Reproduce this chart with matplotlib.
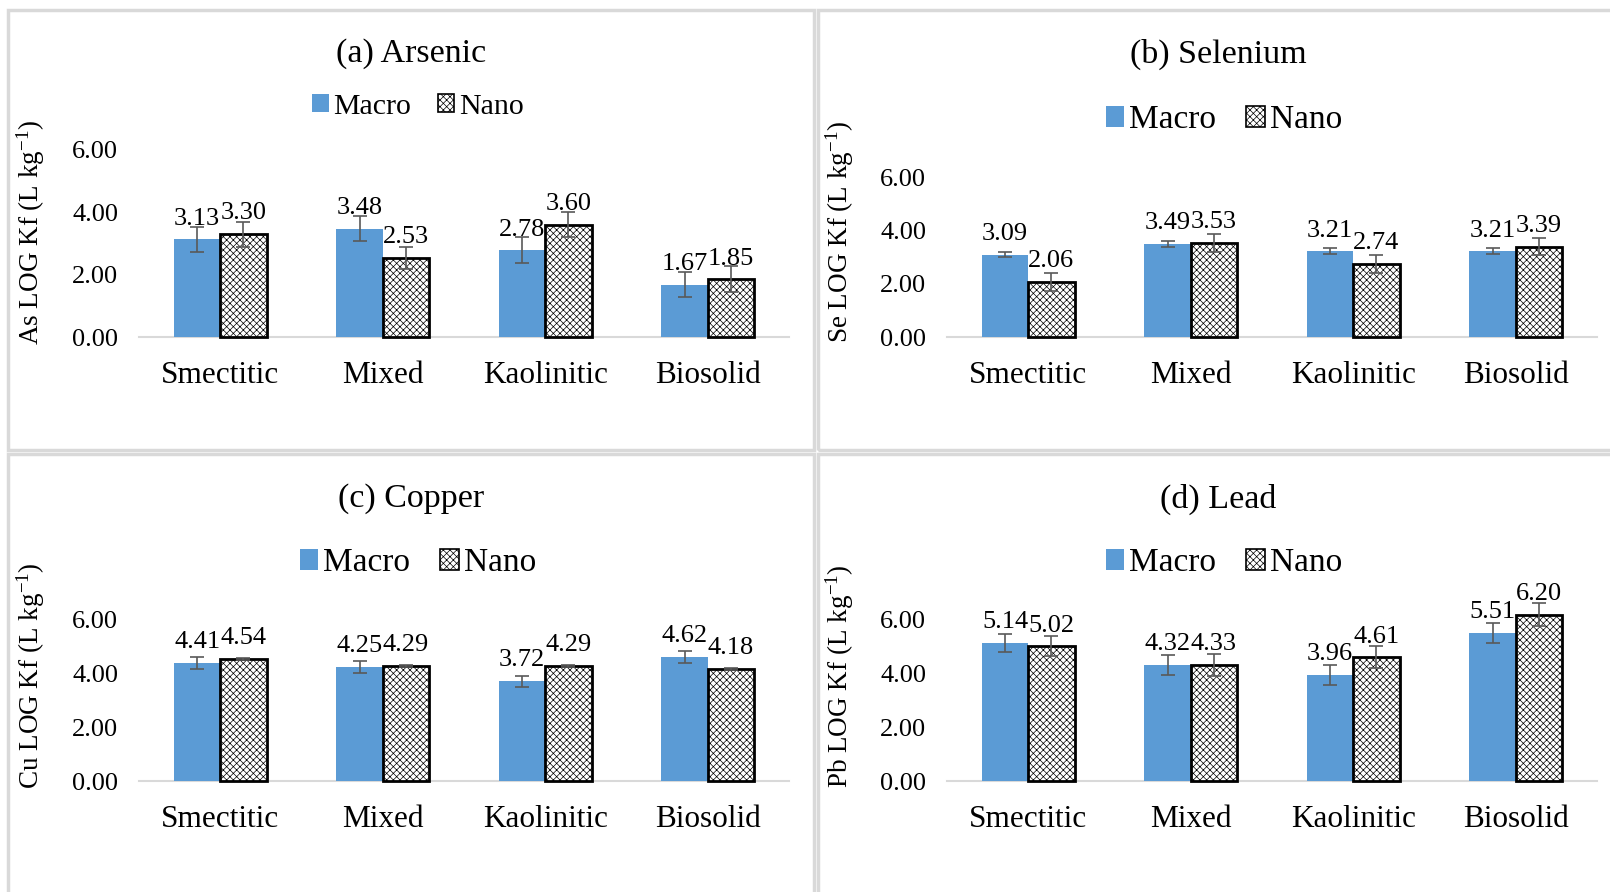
import matplotlib
matplotlib.use("Agg")
import matplotlib.pyplot as plt
from matplotlib.patches import Rectangle, Patch
import numpy as np

plt.rcParams['font.family'] = ['Liberation Serif', 'DejaVu Serif']
plt.rcParams['mathtext.fontset'] = 'custom'
plt.rcParams['mathtext.rm'] = 'Liberation Serif'
plt.rcParams['mathtext.it'] = 'Liberation Serif:italic'
plt.rcParams['hatch.linewidth'] = 0.5

categories = ["Smectitic", "Mixed", "Kaolinitic", "Biosolid"]
series_names = ["Macro", "Nano"]

as_macro = [3.13, 3.48, 2.78, 1.67]
as_nano = [3.30, 2.53, 3.60, 1.85]
as_macro_err = [0.41, 0.39, 0.42, 0.40]
as_nano_err = [0.40, 0.36, 0.40, 0.42]

se_macro = [3.09, 3.49, 3.21, 3.21]
se_nano = [2.06, 3.53, 2.74, 3.39]
se_macro_err = [0.10, 0.11, 0.11, 0.11]
se_nano_err = [0.34, 0.34, 0.34, 0.33]

cu_macro = [4.41, 4.25, 3.72, 4.62]
cu_nano = [4.54, 4.29, 4.29, 4.18]
cu_macro_err = [0.22, 0.22, 0.21, 0.22]
cu_nano_err = [0.03, 0.03, 0.03, 0.03]

pb_macro = [5.14, 4.32, 3.96, 5.51]
pb_nano = [5.02, 4.33, 4.61, 6.20]
pb_macro_err = [0.34, 0.37, 0.38, 0.37]
pb_nano_err = [0.38, 0.42, 0.41, 0.42]

titles = ["(a) Arsenic", "(b) Selenium", "(c) Copper", "(d) Lead"]
ylabels = ["As LOG Kf (L kg$^{-1}$)", "Se LOG Kf (L kg$^{-1}$)",
           "Cu LOG Kf (L kg$^{-1}$)", "Pb LOG Kf (L kg$^{-1}$)"]
yticks = [0, 2, 4, 6]

W, H = 1610, 892
fig = plt.figure(figsize=(W / 100, H / 100), dpi=100)
fig.patch.set_facecolor("white")

MACRO_COLOR = "#5B9BD5"
ERR_COLOR = "#595959"
BORDER = "#D9D9D9"

# panel frames (pixel boxes: left, top, right, bottom)
frames = [(8, 10, 814, 450), (818, 10, 1612, 450),
          (8, 454, 814, 894), (818, 454, 1612, 894)]
for (l, t, r, b) in frames:
    fig.add_artist(Rectangle((l / W, 1 - b / H), (r - l) / W, (b - t) / H,
                             transform=fig.transFigure, fill=False,
                             edgecolor=BORDER, linewidth=2.5))

# plot layouts: x-left, x-right, pixel row of 0, pixel row of 6
layouts = [(139, 789, 337, 150), (947, 1597, 337, 177),
           (139, 789, 781, 620), (947, 1597, 781, 620)]
title_pos = [(411, 54), (1218, 54), (411, 499), (1218, 499)]
legend_pos = [(418, 107), (1224, 120), (418, 563), (1224, 563)]
legend_size = [21.5, 24, 24, 24]
ylabel_x = [31, 840, 31, 840]

data = [(as_macro, as_nano, as_macro_err, as_nano_err),
        (se_macro, se_nano, se_macro_err, se_nano_err),
        (cu_macro, cu_nano, cu_macro_err, cu_nano_err),
        (pb_macro, pb_nano, pb_macro_err, pb_nano_err)]

YMAX = 6.6
x = np.arange(len(categories))
bw = 0.285

for i in range(4):
    xl, xr, y0, y6 = layouts[i]
    per = (y0 - y6) / 6.0
    ytop = y0 - per * YMAX
    ax = fig.add_axes([xl / W, 1 - y0 / H, (xr - xl) / W, (y0 - ytop) / H])
    ax.set_facecolor("none")
    m, n, me, ne = data[i]

    ax.bar(x - bw / 2, m, bw, color=MACRO_COLOR, edgecolor="none",
           clip_on=False, zorder=2)
    ax.bar(x + bw / 2, n, bw, color="white", edgecolor="black",
           hatch="xxxxx", linewidth=2.0, clip_on=False, zorder=2)
    ax.errorbar(x - bw / 2, m, yerr=me, fmt="none", ecolor=ERR_COLOR,
                elinewidth=1.2, capsize=5, capthick=1.2, zorder=4,
                clip_on=False)
    ax.errorbar(x + bw / 2, n, yerr=ne, fmt="none", ecolor=ERR_COLOR,
                elinewidth=1.2, capsize=5, capthick=1.2, zorder=4,
                clip_on=False)

    for xi, v in zip(x - bw / 2, m):
        ax.annotate(f"{v:.2f}", (xi, v), xytext=(0, 7), textcoords="offset points",
                    ha="center", va="bottom", fontsize=19)
    for xi, v in zip(x + bw / 2, n):
        ax.annotate(f"{v:.2f}", (xi, v), xytext=(0, 7), textcoords="offset points",
                    ha="center", va="bottom", fontsize=19)

    ax.set_xlim(-0.5, len(categories) - 0.5)
    ax.set_ylim(0, YMAX)
    ax.set_yticks(yticks)
    ax.set_yticklabels([f"{t:.2f}" for t in yticks])
    ax.set_xticks(x)
    ax.set_xticklabels(categories)
    ax.tick_params(axis="y", length=0, pad=15, labelsize=19)
    ax.tick_params(axis="x", length=0, pad=17, labelsize=22.5)
    for s in ["left", "right", "top"]:
        ax.spines[s].set_visible(False)
    ax.spines["bottom"].set_color(BORDER)
    ax.spines["bottom"].set_linewidth(1.5)
    ax.spines["bottom"].set_zorder(1)

    tx, ty = title_pos[i]
    fig.text(tx / W, 1 - ty / H, titles[i], ha="center", va="center", fontsize=24.5)

    ylx = ylabel_x[i]
    fig.text(ylx / W, 1 - (y0 - 105) / H, ylabels[i], rotation=90,
             ha="center", va="center", fontsize=19.5)

    lx, ly = legend_pos[i]
    handles = [Patch(facecolor=MACRO_COLOR, edgecolor="none"),
               Patch(facecolor="white", edgecolor="black", hatch="xxxxx",
                     linewidth=1.2)]
    fig.legend(handles, series_names, loc="center", ncol=2,
               bbox_to_anchor=(lx / W, 1 - ly / H), frameon=False,
               fontsize=legend_size[i], handlelength=0.55, handleheight=0.55,
               handletextpad=0.15, columnspacing=0.9, borderpad=0)

fig.savefig("out.png", dpi=100)
